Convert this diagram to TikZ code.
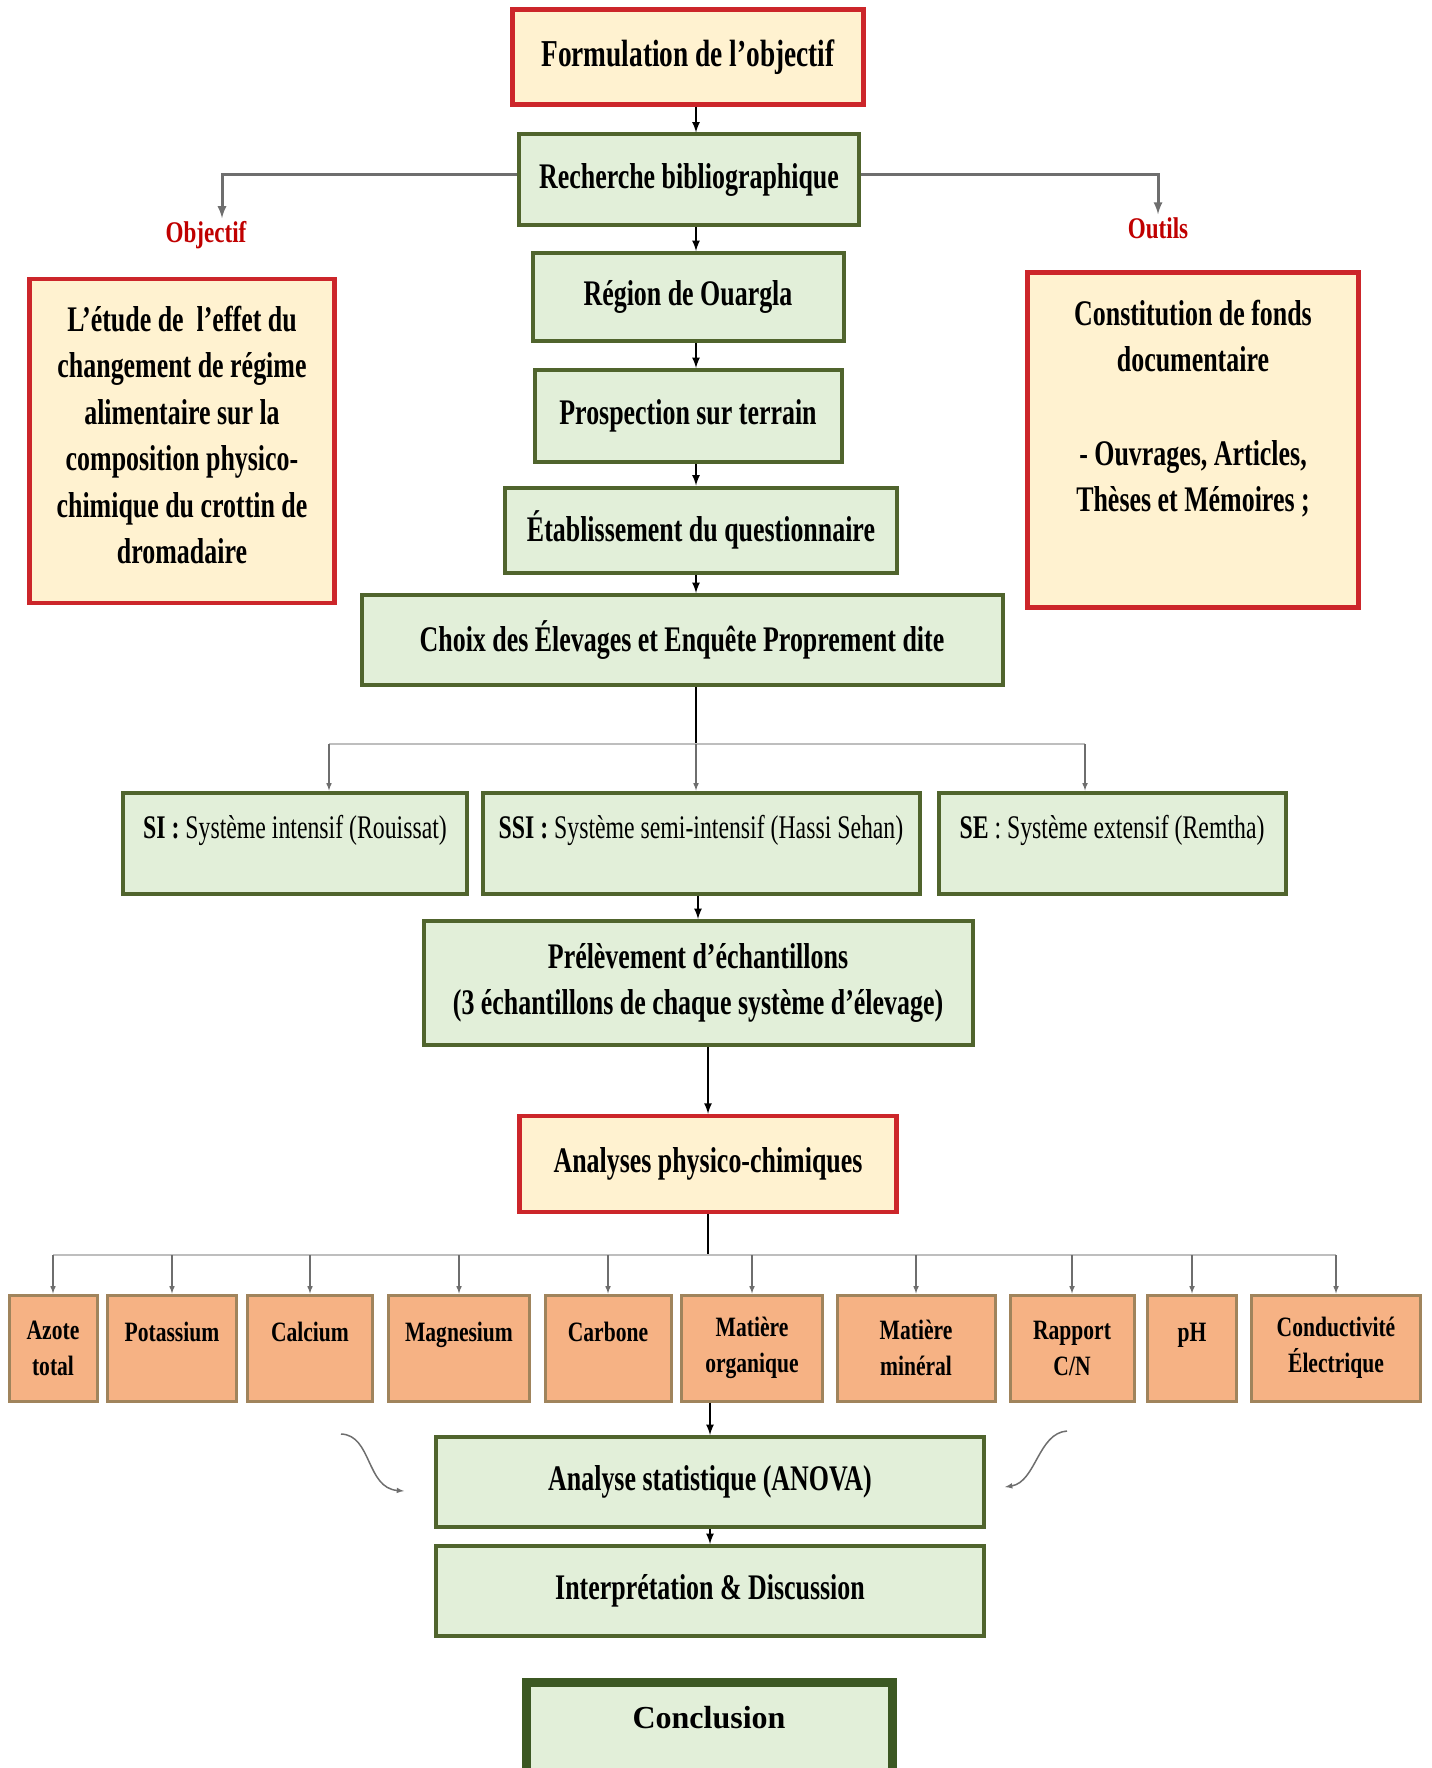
\documentclass[tikz,border=0pt]{standalone}
\usepackage{fontspec}
\setmainfont{Liberation Serif}
\newfontfamily\narrowfont{Liberation Serif}[FakeStretch=0.72]
\newfontfamily\midfont{Liberation Serif}[FakeStretch=0.77]
\usetikzlibrary{arrows, positioning}

\definecolor{boxred}{RGB}{204,38,42}
\definecolor{boxcream}{RGB}{255,242,208}
\definecolor{boxgreen}{RGB}{80,100,45}
\definecolor{darkgreen}{RGB}{60,88,35}
\definecolor{palegreen}{RGB}{226,239,217}
\definecolor{paramfill}{RGB}{246,178,132}
\definecolor{paramline}{RGB}{160,132,92}
\definecolor{labelred}{RGB}{192,0,0}
\definecolor{busgray}{RGB}{190,190,190}
\definecolor{linegray}{RGB}{110,110,110}

\begin{document}
\begin{tikzpicture}[
            x=1pt, y=-1pt, >=latex,
            redbox/.style={draw=boxred, fill=boxcream, line width=4.5pt, inner sep=0pt, align=center,
                font=\narrowfont\bfseries\fontsize{36}{46.5}\selectfont},
            greenbox/.style={draw=boxgreen, fill=palegreen, line width=4pt, inner sep=0pt, align=center,
                font=\narrowfont\bfseries\fontsize{36}{46}\selectfont},
            sysbox/.style={greenbox, minimum height=101pt, font=\narrowfont\fontsize{33}{40}\selectfont,
                text height=46pt, text depth=55pt},
            parambox/.style={draw=paramline, fill=paramfill, line width=3pt, inner sep=0pt, align=center,
                minimum height=106pt, font=\midfont\bfseries\fontsize{28}{36}\selectfont},
            oneline/.style={text height=46pt, text depth=60pt},
            sidelabel/.style={text=labelred, inner sep=3pt, font=\midfont\bfseries\fontsize{30}{36}\selectfont},
            flow/.style={->, line width=2.5pt},
            trunk/.style={line width=2.5pt},
            side/.style={->, draw=linegray, line width=3pt},
            bus/.style={draw=busgray, line width=2.5pt},
            drop/.style={->, draw=linegray, line width=1.5pt}
        ]
        \useasboundingbox (0,0) rectangle (1431,1768);

        % main column
        \node[redbox, minimum width=351pt, minimum height=95pt,
            font=\narrowfont\bfseries\fontsize{38}{46}\selectfont] (form) at (688,57) {Formulation de l’objectif};
        \node[greenbox, minimum width=340pt, minimum height=91pt] (rech) at (689,180) {Recherche bibliographique};
        \node[greenbox, minimum width=311pt, minimum height=88pt] (region) at (688,297) {Région de Ouargla};
        \node[greenbox, minimum width=307pt, minimum height=92pt] (prosp) at (688,416) {Prospection sur terrain};
        \node[greenbox, minimum width=392pt, minimum height=85pt] (etab) at (701,530) {Établissement du questionnaire};
        \node[greenbox, minimum width=641pt, minimum height=90pt] (choix) at (682,640) {Choix des Élevages et Enquête Proprement dite};

        % objective and tools
        \node[sidelabel] (objlbl) at (206,235) {Objectif};
        \node[redbox, minimum width=305pt, minimum height=324pt] (objbox) at (182,441)
            {L’étude de\ \ l’effet du\\changement de régime\\alimentaire sur la\\composition physico-\\chimique du crottin de\\dromadaire\\[-34pt]~};
        \node[sidelabel] (outlbl) at (1158,228) {Outils};
        \node[redbox, minimum width=331pt, minimum height=335pt] (outbox) at (1193,440)
            {Constitution de fonds\\documentaire\\[47pt]- Ouvrages, Articles,\\Thèses et Mémoires ;\\[22pt]~};

        % breeding systems
        \node[sysbox, minimum width=344pt] (si) at (295,843) {\textbf{SI :} Système intensif (Rouissat)};
        \node[sysbox, minimum width=437pt] (ssi) at (701,843) {\textbf{SSI :} Système semi-intensif (Hassi Sehan)};
        \node[sysbox, minimum width=347pt] (se) at (1112,843) {\textbf{SE} : Système extensif (Remtha)};

        \node[greenbox, minimum width=549pt, minimum height=124pt] (prel) at (698,983)
            {Prélèvement d’échantillons\\(3 échantillons de chaque système d’élevage)};
        \node[redbox, minimum width=377pt, minimum height=96pt] (anal) at (708,1164) {Analyses physico-chimiques};

        % parameters
        \node[parambox, minimum width=88pt] (azote) at (53,1348) {Azote\\total};
        \node[parambox, oneline, minimum width=129pt] (potas) at (172,1348) {Potassium};
        \node[parambox, oneline, minimum width=125pt] (calc) at (310,1348) {Calcium};
        \node[parambox, oneline, minimum width=141pt] (magn) at (459,1348) {Magnesium};
        \node[parambox, oneline, minimum width=126pt] (carb) at (608,1348) {Carbone};
        \node[parambox, minimum width=141pt] (mo) at (752,1348) {Matière\\organique};
        \node[parambox, minimum width=158pt] (mm) at (916,1348) {Matière\\minéral};
        \node[parambox, minimum width=124pt] (rap) at (1072,1348) {Rapport\\C/N};
        \node[parambox, oneline, minimum width=89pt] (ph) at (1192,1348) {pH};
        \node[parambox, minimum width=169pt] (cond) at (1336,1348) {Conductivité\\Électrique};

        \node[greenbox, minimum width=548pt, minimum height=90pt] (anova) at (710,1482) {Analyse statistique (ANOVA)};
        \node[greenbox, minimum width=548pt, minimum height=90pt] (interp) at (710,1591) {Interprétation \& Discussion};
        \node[draw=darkgreen, fill=palegreen, line width=9pt, inner sep=0pt, minimum width=366pt, minimum height=92pt,
            text height=46pt, text depth=46pt, font=\bfseries\fontsize{32}{38}\selectfont] (concl) at (709,1728) {Conclusion};

        % connectors
        \coordinate (spine) at (696,0);
        \draw[flow] (form.south -| spine) -- (rech.north -| spine);
        \draw[flow] (rech.south -| spine) -- (region.north -| spine);
        \draw[flow] (region.south -| spine) -- (prosp.north -| spine);
        \draw[flow] (prosp.south -| spine) -- (etab.north -| spine);
        \draw[flow] (etab.south -| spine) -- (choix.north -| spine);

        \draw[side] ([yshift=5pt]rech.west) -| ([xshift=16pt]objlbl.north);
        \draw[side] ([yshift=5pt]rech.east) -| (outlbl.north);

        \coordinate (fork) at (696,744);
        \coordinate (forkL) at (329,744);
        \coordinate (forkR) at (1085,744);
        \draw[trunk] (choix.south -| spine) -- (fork);
        \draw[bus] (forkL) -- (forkR);
        \draw[drop] (forkL) -- (forkL |- si.north);
        \draw[drop] (fork) -- (fork |- ssi.north);
        \draw[drop] (forkR) -- (forkR |- se.north);

        \draw[flow] (ssi.south -| prel.north) -- (prel.north);
        \draw[flow] (prel.south -| anal.north) -- (anal.north);

        \coordinate (split) at (708,1255);
        \draw[trunk] (anal.south) -- (split);
        \draw[bus] (split -| azote.north) -- (split -| cond.north);
        \draw[drop] (split -| azote.north) -- (azote.north);
        \draw[drop] (split -| potas.north) -- (potas.north);
        \draw[drop] (split -| calc.north) -- (calc.north);
        \draw[drop] (split -| magn.north) -- (magn.north);
        \draw[drop] (split -| carb.north) -- (carb.north);
        \draw[drop] (split -| mo.north) -- (mo.north);
        \draw[drop] (split -| mm.north) -- (mm.north);
        \draw[drop] (split -| rap.north) -- (rap.north);
        \draw[drop] (split -| ph.north) -- (ph.north);
        \draw[drop] (split -| cond.north) -- (cond.north);

        \draw[flow] (mo.south -| anova.north) -- (anova.north);
        \draw[flow] (anova.south) -- (interp.north);

        % curved arrows beside the statistics box
        \draw[drop] (341,1434) .. controls (372,1435) and (366,1488) .. (404,1491);
        \draw[drop] (1067,1431) .. controls (1038,1433) and (1036,1482) .. (1005,1487);
    \end{tikzpicture}
\end{document}
